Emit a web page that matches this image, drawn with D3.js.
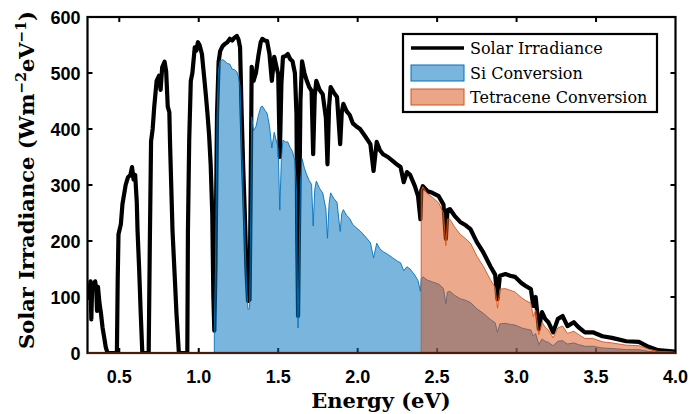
<!DOCTYPE html>
<html>
<head>
<meta charset="utf-8">
<script src="https://cdnjs.cloudflare.com/ajax/libs/d3/7.8.5/d3.min.js"></script>
<style>
  body { margin: 0; background: #fff; }
  svg { display: block; }
</style>
</head>
<body>
<div id="containerChart"></div>
<script>
// solar spectrum (eV, W m^-2 eV^-1)
const energy = [0.300, 0.306, 0.313, 0.319, 0.324, 0.330, 0.340, 0.348, 0.355, 0.360, 0.366, 0.375, 0.385, 0.395, 0.405, 0.415, 0.426,
  0.485, 0.490, 0.495, 0.510, 0.520, 0.540, 0.555, 0.570, 0.580, 0.590, 0.600, 0.610, 0.615, 0.625, 0.635, 0.645,
  0.685, 0.692, 0.700, 0.710, 0.720, 0.735, 0.750, 0.760, 0.770, 0.785, 0.795, 0.805, 0.815, 0.820, 0.835, 0.850, 0.860, 0.875,
  0.928, 0.932, 0.940, 0.950, 0.960, 0.975, 0.985, 0.995, 1.005, 1.020, 1.035, 1.045, 1.055, 1.065, 1.075, 1.085, 1.092, 1.098,
  1.105, 1.115, 1.125, 1.135, 1.150, 1.165, 1.180, 1.195, 1.210, 1.225, 1.240, 1.250, 1.260, 1.270, 1.280, 1.290, 1.300, 1.310,
  1.320, 1.327, 1.333, 1.345, 1.360, 1.375, 1.390, 1.400, 1.415, 1.430, 1.445, 1.460, 1.475, 1.490, 1.500, 1.510, 1.520, 1.530,
  1.545, 1.560, 1.575, 1.590, 1.605, 1.615, 1.620, 1.625, 1.630, 1.640, 1.650, 1.665, 1.680, 1.695, 1.710, 1.720, 1.730, 1.740,
  1.760, 1.780, 1.800, 1.810, 1.820, 1.830, 1.850, 1.870, 1.890, 1.900, 1.910, 1.930, 1.950, 1.970, 1.990, 2.015, 2.045, 2.080,
  2.100, 2.120, 2.140, 2.160, 2.190, 2.220, 2.250, 2.270, 2.290, 2.310, 2.330, 2.360, 2.380, 2.395, 2.400, 2.410, 2.440, 2.470,
  2.510, 2.540, 2.555, 2.565, 2.580, 2.610, 2.645, 2.680, 2.710, 2.750, 2.790, 2.835, 2.865, 2.880, 2.895, 2.930, 2.960, 2.990,
  3.030, 3.055, 3.090, 3.105, 3.120, 3.140, 3.160, 3.180, 3.200, 3.230, 3.260, 3.290, 3.320, 3.360, 3.390, 3.430, 3.480, 3.540,
  3.600, 3.690, 3.770, 3.830, 3.890, 3.980, 4.000];
const irradiance = [95, 120, 110, 128, 60, 125, 120, 128, 115, 75, 118, 90, 70, 45, 28, 10, 0,
  0, 130, 212, 230, 266, 300, 314, 318, 332, 310, 318, 270, 218, 150, 70, 0,
  0, 190, 378, 400, 440, 486, 495, 470, 510, 520, 503, 440, 430, 368, 218, 130, 70, 0,
  0, 218, 380, 486, 500, 546, 540, 555, 550, 534, 490, 460, 427, 390, 337, 250, 100, 40,
  150, 427, 520, 539, 548, 552, 555, 561, 558, 563, 566, 560, 546, 427, 330, 248, 150, 93,
  95, 300, 511, 486, 500, 530, 555, 561, 558, 557, 534, 486, 529, 510, 498, 350, 480, 529,
  530, 534, 525, 521, 500, 427, 200, 66, 200, 450, 521, 500, 486, 475, 468, 355, 460, 486,
  470, 462, 420, 337, 440, 475, 465, 457, 373, 430, 445, 432, 425, 410, 405, 400, 388, 373,
  325, 377, 362, 355, 350, 343, 336, 332, 305, 323, 318, 298, 280, 239, 290, 298, 289, 286,
  280, 265, 204, 255, 257, 245, 234, 228, 221, 198, 180, 155, 140, 96, 138, 141, 138, 136,
  125, 120, 114, 84, 100, 43, 73, 61, 55, 37, 61, 66, 48, 55, 46, 37, 37, 30,
  27, 21, 20, 11, 5, 3, 2];

// Si conversion (blue area)
const siEnergy = [1.098, 1.105, 1.115, 1.125, 1.135, 1.150, 1.165, 1.180, 1.195, 1.210, 1.225, 1.240, 1.250, 1.260, 1.270,
  1.280, 1.290, 1.300, 1.310, 1.320, 1.327, 1.333, 1.345, 1.360, 1.375, 1.390, 1.400, 1.415, 1.430, 1.445, 1.460, 1.475,
  1.490, 1.500, 1.510, 1.520, 1.530, 1.545, 1.560, 1.575, 1.590, 1.605, 1.615, 1.620, 1.625, 1.630, 1.640, 1.650, 1.665,
  1.680, 1.695, 1.710, 1.720, 1.730, 1.740, 1.760, 1.780, 1.800, 1.810, 1.820, 1.830, 1.850, 1.870, 1.890, 1.900, 1.910,
  1.930, 1.950, 1.970, 1.990, 2.015, 2.045, 2.080, 2.100, 2.120, 2.140, 2.160, 2.190, 2.220, 2.250, 2.270, 2.290, 2.310,
  2.330, 2.360, 2.380, 2.395, 2.400, 2.410, 2.440, 2.470, 2.510, 2.540, 2.555, 2.565, 2.580, 2.610, 2.645, 2.680, 2.710,
  2.750, 2.790, 2.835, 2.865, 2.880, 2.895, 2.930, 2.960, 2.990, 3.030, 3.055, 3.090, 3.105, 3.120, 3.140, 3.160, 3.180,
  3.200, 3.230, 3.260, 3.290, 3.320, 3.360, 3.390, 3.430, 3.480, 3.540, 3.600, 3.690, 3.770, 3.830, 3.890, 3.980, 4.000];
const siConversion = [40, 149, 421, 508, 522, 524, 521, 517, 516, 507, 506, 502, 493, 477, 370,
  284, 211, 127, 78, 79, 249, 422, 397, 404, 424, 439, 441, 434, 428, 406, 366, 394,
  377, 365, 255, 347, 380, 377, 377, 367, 360, 343, 291, 136, 45, 135, 302, 347, 330,
  318, 308, 301, 227, 292, 307, 294, 286, 257, 205, 266, 286, 276, 269, 217, 249, 256,
  246, 240, 229, 224, 218, 209, 197, 170, 196, 186, 181, 176, 170, 164, 161, 147, 154,
  150, 139, 129, 110, 133, 136, 130, 127, 123, 115, 88, 109, 110, 103, 97, 94, 90,
  79, 71, 60, 54, 37, 52, 53, 51, 50, 45, 43, 41, 30, 35, 15, 25, 21,
  19, 13, 21, 22, 16, 18, 15, 12, 12, 9, 8, 6, 6, 3, 1, 1, 1];

// Tetracene conversion (orange area)
const tetEnergy = [2.400, 2.410, 2.440, 2.470, 2.510, 2.540, 2.555, 2.565, 2.580, 2.610, 2.645, 2.680, 2.710, 2.750, 2.790,
  2.835, 2.865, 2.880, 2.895, 2.930, 2.960, 2.990, 3.030, 3.055, 3.090, 3.105, 3.120, 3.140, 3.160, 3.180, 3.200, 3.230,
  3.260, 3.290, 3.320, 3.360, 3.390, 3.430, 3.480, 3.540, 3.600, 3.690, 3.770, 3.830, 3.890, 3.980, 4.000];
const tetConversion = [290, 297, 284, 278, 268, 250, 192, 239, 239, 225, 212, 204, 196, 173, 155,
  131, 117, 80, 114, 115, 112, 109, 99, 94, 89, 65, 77, 33, 55, 46, 41, 27,
  45, 48, 35, 39, 33, 26, 26, 20, 18, 14, 13, 7, 3, 2, 1];

const xTicks = [0.5, 1.0, 1.5, 2.0, 2.5, 3.0, 3.5, 4.0];
const yTicks = [0, 100, 200, 300, 400, 500, 600];
const legendLabels = ["Solar Irradiance", "Si Conversion", "Tetracene Conversion"];

function zipSeries(xs, ys) {
    return xs.map(function(x, i) { return {e: x, v: ys[i]}; });
}

function mainChart() {
    let W = 693, H = 414;
    let margin = {top: 17, right: 17.5, bottom: 61, left: 87.5};
    let w = W - margin.left - margin.right;
    let h = H - margin.top - margin.bottom;
    let siColor = "#0072BD", tetColor = "#D95319";
    let tickFont = "bold 18px 'Liberation Sans', Arial, sans-serif";
    let serifFont = "'DejaVu Serif', serif";

    let x = d3.scaleLinear().domain([0.3, 4.0]).range([0, w]);
    let y = d3.scaleLinear().domain([0, 600]).range([h, 0]);

    let svg = d3.select("#containerChart").append("svg")
        .attr("width", W).attr("height", H);

    let g = svg.append("g")
        .attr("transform", "translate(" + margin.left + "," + margin.top + ")");

    g.append("clipPath").attr("id", "plotClip")
        .append("rect").attr("width", w).attr("height", h);

    // ticks (inward, on all four sides)
    let tickLen = 5;
    let tickG = g.append("g").attr("stroke", "#000").attr("stroke-width", 2);
    xTicks.forEach(function(t) {
        if (t >= 4.0) return;
        tickG.append("line").attr("x1", x(t)).attr("x2", x(t)).attr("y1", h).attr("y2", h - tickLen);
        tickG.append("line").attr("x1", x(t)).attr("x2", x(t)).attr("y1", 0).attr("y2", tickLen);
    });
    yTicks.forEach(function(t) {
        if (t == 0 || t == 600) return;
        tickG.append("line").attr("x1", 0).attr("x2", tickLen).attr("y1", y(t)).attr("y2", y(t));
        tickG.append("line").attr("x1", w).attr("x2", w - tickLen).attr("y1", y(t)).attr("y2", y(t));
    });

    let plot = g.append("g").attr("clip-path", "url(#plotClip)");

    // solar irradiance line
    let line = d3.line().x(d => x(d.e)).y(d => y(d.v));
    plot.append("path")
        .datum(zipSeries(energy, irradiance))
        .attr("d", line)
        .attr("fill", "none")
        .attr("stroke", "#000")
        .attr("stroke-width", 4.2)
        .attr("stroke-linejoin", "round");

    let area = d3.area().x(d => x(d.e)).y0(y(0)).y1(d => y(d.v));

    // Si conversion
    plot.append("path")
        .datum(zipSeries(siEnergy, siConversion))
        .attr("d", area)
        .attr("fill", siColor)
        .attr("fill-opacity", 0.52)
        .attr("stroke", siColor)
        .attr("stroke-width", 0.9);

    // Tetracene conversion
    plot.append("path")
        .datum(zipSeries(tetEnergy, tetConversion))
        .attr("d", area)
        .attr("fill", tetColor)
        .attr("fill-opacity", 0.5)
        .attr("stroke", tetColor)
        .attr("stroke-width", 0.9);

    // frame
    g.append("rect")
        .attr("width", w).attr("height", h)
        .attr("fill", "none").attr("stroke", "#000").attr("stroke-width", 2.2);

    // area baseline sits over the bottom axis
    g.append("line")
        .attr("x1", 0).attr("x2", w).attr("y1", y(0)).attr("y2", y(0))
        .attr("stroke", tetColor).attr("stroke-opacity", 0.45).attr("stroke-width", 1.4);

    // tick labels
    g.selectAll("text.xlab")
        .data(xTicks).enter().append("text")
        .attr("class", "xlab")
        .attr("x", d => x(d)).attr("y", h + 30)
        .attr("text-anchor", "middle")
        .style("font", tickFont)
        .text(d => d.toFixed(1));

    g.selectAll("text.ylab")
        .data(yTicks).enter().append("text")
        .attr("class", "ylab")
        .attr("x", -7).attr("y", d => y(d) + 6.5)
        .attr("text-anchor", "end")
        .style("font", tickFont)
        .text(d => d);

    // axis titles
    svg.append("text")
        .attr("x", 381).attr("y", 408)
        .attr("text-anchor", "middle")
        .style("font-family", serifFont).style("font-size", "21px").style("font-weight", "bold")
        .text("Energy (eV)");

    let yTitle = svg.append("text")
        .attr("transform", "translate(34,180) rotate(-90)")
        .attr("text-anchor", "middle")
        .style("font-family", serifFont).style("font-size", "21px").style("font-weight", "bold");
    yTitle.append("tspan").text("Solar Irradiance (Wm");
    yTitle.append("tspan").attr("dy", -8).style("font-size", "14px").text("\u22122");
    yTitle.append("tspan").attr("dy", 8).text("eV");
    yTitle.append("tspan").attr("dy", -8).style("font-size", "14px").text("\u22121");
    yTitle.append("tspan").attr("dy", 8).text(")");

    // legend
    let lg = svg.append("g").attr("transform", "translate(403,34)");
    lg.append("rect")
        .attr("width", 254).attr("height", 78)
        .attr("fill", "#fff").attr("stroke", "#000").attr("stroke-width", 2.2);

    let rowY = [14, 39, 63];
    lg.append("line")
        .attr("x1", 8).attr("x2", 61).attr("y1", rowY[0]).attr("y2", rowY[0])
        .attr("stroke", "#000").attr("stroke-width", 3.6);
    [siColor, tetColor].forEach(function(c, i) {
        lg.append("rect")
            .attr("x", 8).attr("y", rowY[i + 1] - 8)
            .attr("width", 53).attr("height", 16)
            .attr("fill", c).attr("fill-opacity", 0.52)
            .attr("stroke", c).attr("stroke-width", 1);
    });
    lg.selectAll("text.leg")
        .data(legendLabels).enter().append("text")
        .attr("class", "leg")
        .attr("x", 67).attr("y", (d, i) => rowY[i] + 6)
        .style("font-family", serifFont).style("font-size", "16px")
        .text(d => d);
}

mainChart();
</script>
</body>
</html>
